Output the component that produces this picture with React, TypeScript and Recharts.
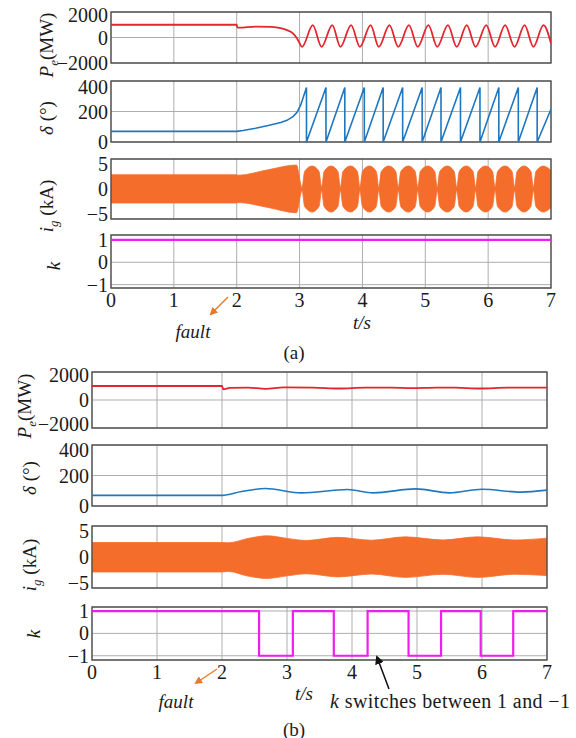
import React from 'react';
import {
  ComposedChart,
  Line,
  Area,
  XAxis,
  YAxis,
  CartesianGrid,
  ReferenceLine,
  ReferenceArea,
} from 'recharts';

const FONT = 'Liberation Serif, DejaVu Serif, Times New Roman, serif';

// ---------- shared ----------
const X_TICKS = [0, 1, 2, 3, 4, 5, 6, 7];
const FAULT_T = 2;
const PE_TICKS = [-2000, 0, 2000];
const DELTA_TICKS = [0, 200, 400];
const IG_TICKS = [-5, 0, 5];
const K_TICKS = [-1, 0, 1];

// ---------- (a) ----------
const peA_t = [0, 2.0, 2.01, 2.04, 2.3, 2.55, 2.7, 2.8, 2.9, 2.97,
  3.04, 3.21, 3.35, 3.52, 3.65, 3.82, 3.96, 4.13, 4.26, 4.43, 4.57, 4.74, 4.88,
  5.05, 5.19, 5.36, 5.50, 5.66, 5.80, 5.97, 6.11, 6.27, 6.42, 6.58, 6.72, 6.88, 7.0];
const peA_v = [1000, 1000, 800, 770, 860, 840, 740, 580, 300, -150,
  -730, 970, -730, 970, -730, 970, -730, 970, -730, 970, -730, 970, -730,
  970, -730, 970, -730, 970, -730, 970, -730, 970, -730, 970, -730, 970, -480];

const deltaA_t = [0, 2.0, 2.1, 2.3, 2.5, 2.7, 2.8, 2.9, 2.96, 3.02, 3.11,
  3.11, 3.42, 3.42, 3.72, 3.72, 4.03, 4.03, 4.33, 4.33, 4.64, 4.64, 4.95, 4.95,
  5.25, 5.25, 5.56, 5.56, 5.87, 5.87, 6.17, 6.17, 6.48, 6.48, 6.78, 6.78, 7.0];
const deltaA_v = [70, 70, 75, 90, 108, 128, 142, 168, 195, 245, 358,
  0, 358, 0, 358, 0, 358, 0, 358, 0, 358, 0, 358, 0,
  358, 0, 358, 0, 358, 0, 358, 0, 358, 0, 358, 0, 215];

const igA_t = [0, 2.0, 2.02, 2.5, 2.95,
  3.04, 3.08, 3.20, 3.31,
  3.35, 3.39, 3.50, 3.61,
  3.65, 3.69, 3.81, 3.92,
  3.96, 4.00, 4.11, 4.22,
  4.26, 4.30, 4.42, 4.53,
  4.57, 4.61, 4.73, 4.84,
  4.88, 4.92, 5.04, 5.15,
  5.19, 5.23, 5.35, 5.46,
  5.50, 5.54, 5.65, 5.76,
  5.80, 5.84, 5.96, 6.07,
  6.11, 6.15, 6.27, 6.38,
  6.42, 6.46, 6.57, 6.68,
  6.72, 6.76, 6.88, 7.0];
const igA_hi = [2.85, 2.85, 2.75, 3.85, 4.8,
  0.3, 3.5, 4.6, 3.5,
  0.3, 3.5, 4.6, 3.5,
  0.3, 3.5, 4.6, 3.5,
  0.3, 3.5, 4.6, 3.5,
  0.3, 3.5, 4.6, 3.5,
  0.3, 3.5, 4.6, 3.5,
  0.3, 3.5, 4.6, 3.5,
  0.3, 3.5, 4.6, 3.5,
  0.3, 3.5, 4.6, 3.5,
  0.3, 3.5, 4.6, 3.5,
  0.3, 3.5, 4.6, 3.5,
  0.3, 3.5, 4.6, 3.5,
  0.3, 3.5, 4.6, 3.7];
const igA_lo = [-2.8, -2.8, -2.7, -3.7, -4.75,
  -0.3, -3.5, -4.6, -3.5,
  -0.3, -3.5, -4.6, -3.5,
  -0.3, -3.5, -4.6, -3.5,
  -0.3, -3.5, -4.6, -3.5,
  -0.3, -3.5, -4.6, -3.5,
  -0.3, -3.5, -4.6, -3.5,
  -0.3, -3.5, -4.6, -3.5,
  -0.3, -3.5, -4.6, -3.5,
  -0.3, -3.5, -4.6, -3.5,
  -0.3, -3.5, -4.6, -3.5,
  -0.3, -3.5, -4.6, -3.5,
  -0.3, -3.5, -4.6, -3.5,
  -0.3, -3.5, -4.6, -3.7];

const kA_t = [0, 7];
const kA_v = [1, 1];

// ---------- (b) ----------
const peB_t = [0, 2.0, 2.02, 2.12, 2.4, 2.67, 2.95, 3.4, 3.8, 4.2, 4.6, 4.92, 5.3, 5.6, 5.97, 6.4, 6.75, 7.0];
const peB_v = [1000, 1000, 760, 860, 890, 800, 900, 890, 820, 890, 890, 850, 890, 880, 820, 890, 880, 880];

const deltaB_t = [0, 2.0, 2.3, 2.67, 3.22, 3.93, 4.33, 4.98, 5.5, 6.0, 6.6, 7.0];
const deltaB_v = [70, 70, 95, 115, 86, 108, 86, 112, 86, 110, 91, 104];

const igB_t = [0, 2.0, 2.1, 2.4, 2.7, 3.0, 3.3, 3.78, 4.3, 4.82, 5.4, 5.93, 6.5, 7.0];
const igB_hi = [2.8, 2.8, 2.75, 3.6, 4.1, 3.6, 3.2, 3.8, 3.25, 3.9, 3.3, 3.9, 3.3, 3.65];
const igB_lo = [-2.9, -2.9, -2.8, -3.7, -4.15, -3.65, -3.25, -3.85, -3.3, -3.95, -3.35, -3.95, -3.35, -3.6];

const kB_t = [0, 2.57, 2.57, 3.09, 3.09, 3.72, 3.72, 4.24, 4.24, 4.87, 4.87, 5.37, 5.37, 5.98, 5.98, 6.48, 6.48, 7.0];
const kB_v = [1, 1, -1, -1, 1, 1, -1, -1, 1, 1, -1, -1, 1, 1, -1, -1, 1, 1];

// ---------- helpers ----------
const series = (t: number[], v: number[]) => t.map((x, i) => ({ t: x, v: v[i] }));
const band = (t: number[], lo: number[], hi: number[]) => t.map((x, i) => ({ t: x, r: [lo[i], hi[i]] }));

const fmt = (v: number) => (v < 0 ? `\u2212${Math.abs(v)}` : `${v}`);

const C_RED = '#e3262d';
const C_BLUE = '#1f77c0';
const C_ORANGE = '#f56d2b';
const C_MAG = '#ef1eef';
const C_FAULT = '#e8792c';
const C_GRID = '#adadad';
const C_TEXT = '#1a1a1a';

const YW = 90;
const MT = 14;
const MR = 6;
const MB = 14;
const XH = 30;

type PanelProps = {
  data: any[];
  left: number;
  right: number;
  top: number;
  bottom: number;
  domain: [number, number];
  ticks: number[];
  gridValues: number[];
  labelShift?: Record<number, number>;
  showX?: boolean;
  children: React.ReactNode;
};

function Panel({ data, left, right, top, bottom, domain, ticks, gridValues, labelShift, showX, children }: PanelProps) {
  const xh = showX ? XH : 0;
  const w = right - left + YW + MR;
  const h = bottom - top + MT + MB + xh;
  const tickStyle = { fontSize: 20, fontFamily: FONT, fill: C_TEXT };
  const yTick = (props: any) => {
    const { x, y, payload } = props;
    const shift = (labelShift && labelShift[payload.value]) || 0;
    return (
      <text x={x} y={y + shift} dy="0.355em" textAnchor="end" fontSize={20} fill={C_TEXT} style={{ fontFamily: FONT }}>
        {fmt(payload.value)}
      </text>
    );
  };
  return (
    <div style={{ position: 'absolute', left: left - YW, top: top - MT, width: w, height: h, fontFamily: FONT }}>
      <ComposedChart width={w} height={h} data={data} margin={{ top: MT, right: MR, bottom: MB, left: 0 }}>
        <CartesianGrid stroke={C_GRID} strokeWidth={1} horizontalValues={gridValues} verticalValues={X_TICKS} />
        <XAxis
          dataKey="t"
          type="number"
          domain={[0, 7]}
          ticks={X_TICKS}
          interval={0}
          allowDataOverflow
          hide={!showX}
          height={xh}
          tickLine={false}
          axisLine={false}
          tickSize={0}
          tickMargin={5}
          tick={tickStyle}
        />
        <YAxis
          type="number"
          domain={domain}
          ticks={ticks}
          interval={0}
          allowDataOverflow
          width={YW}
          tickLine={false}
          axisLine={false}
          tickSize={0}
          tickMargin={3}
          tick={yTick}
        />
        {children}
        <ReferenceArea
          x1={0}
          x2={7}
          y1={domain[0]}
          y2={domain[1]}
          fill="none"
          fillOpacity={0}
          stroke="#4a4a4a"
          strokeWidth={1.3}
          ifOverflow="visible"
        />
      </ComposedChart>
    </div>
  );
}

const faultData = [{ t: 0 }, { t: 7 }];

function FaultLine({ left, right, top, bottom }: { left: number; right: number; top: number; bottom: number }) {
  const w = right - left + YW + MR;
  const h = bottom - top + MT + MB;
  return (
    <div style={{ position: 'absolute', left: left - YW, top: top - MT, width: w, height: h, pointerEvents: 'none' }}>
      <ComposedChart width={w} height={h} data={faultData} margin={{ top: MT, right: MR, bottom: MB, left: YW }}>
        <XAxis dataKey="t" type="number" domain={[0, 7]} hide allowDataOverflow />
        <YAxis type="number" domain={[0, 1]} hide />
        <ReferenceLine x={FAULT_T} stroke={C_FAULT} strokeWidth={1} strokeDasharray="3 2" />
      </ComposedChart>
    </div>
  );
}

function YLabel({ x, y, children }: { x: number; y: number; children: React.ReactNode }) {
  return (
    <text
      transform={`translate(${x},${y}) rotate(-90)`}
      textAnchor="middle"
      fontSize={19}
      style={{ fontFamily: FONT }}
      fill={C_TEXT}
    >
      {children}
    </text>
  );
}

function PeLabel({ x, y }: { x: number; y: number }) {
  return (
    <YLabel x={x} y={y}>
      <tspan fontStyle="italic">P</tspan>
      <tspan fontStyle="italic" fontSize={13} dy={5}>e</tspan>
      <tspan dy={-5}>(MW)</tspan>
    </YLabel>
  );
}
function DeltaLabel({ x, y }: { x: number; y: number }) {
  return (
    <YLabel x={x} y={y}>
      <tspan fontStyle="italic">δ</tspan>
      <tspan> (°)</tspan>
    </YLabel>
  );
}
function IgLabel({ x, y }: { x: number; y: number }) {
  return (
    <YLabel x={x} y={y}>
      <tspan fontStyle="italic">i</tspan>
      <tspan fontStyle="italic" fontSize={13} dy={5}>g</tspan>
      <tspan dy={-5}> (kA)</tspan>
    </YLabel>
  );
}
function KLabel({ x, y }: { x: number; y: number }) {
  return (
    <YLabel x={x} y={y}>
      <tspan fontStyle="italic">k</tspan>
    </YLabel>
  );
}

// layout (page pixels)
const A_L = 111;
const A_R = 551;
const B_L = 92;
const B_R = 547;

export default function App() {
  const peA = series(peA_t, peA_v);
  const deltaA = series(deltaA_t, deltaA_v);
  const igA = band(igA_t, igA_lo, igA_hi);
  const kA = series(kA_t, kA_v);
  const peB = series(peB_t, peB_v);
  const deltaB = series(deltaB_t, deltaB_v);
  const igB = band(igB_t, igB_lo, igB_hi);
  const kB = series(kB_t, kB_v);

  const ts = { fontFamily: FONT };

  return (
    <div style={{ position: 'absolute', left: 0, top: 0, width: 576, height: 738, background: '#fff', overflow: 'hidden', fontFamily: FONT }}>
      {/* (a) */}
      <Panel data={peA} left={A_L} right={A_R} top={12} bottom={63} domain={[-2000, 2000]} ticks={PE_TICKS} gridValues={[0]} labelShift={{ 2000: 3 }}>
        <Line dataKey="v" type="monotone" stroke={C_RED} strokeWidth={1.8} dot={false} isAnimationActive={false} />
      </Panel>
      <Panel data={deltaA} left={A_L} right={A_R} top={81} bottom={142} domain={[0, 400]} ticks={DELTA_TICKS} gridValues={[200]} labelShift={{ 400: 6 }}>
        <Line dataKey="v" type="linear" stroke={C_BLUE} strokeWidth={1.6} dot={false} isAnimationActive={false} />
      </Panel>
      <Panel data={igA} left={A_L} right={A_R} top={159} bottom={219} domain={[-6, 6]} ticks={IG_TICKS} gridValues={[0]}>
        <Area dataKey="r" type="monotone" stroke={C_ORANGE} strokeWidth={0.8} fill={C_ORANGE} fillOpacity={1} dot={false} isAnimationActive={false} />
      </Panel>
      <Panel data={kA} left={A_L} right={A_R} top={235} bottom={288} domain={[-1.15, 1.22]} ticks={K_TICKS} gridValues={[-1, 0, 1]} showX>
        <Line dataKey="v" type="linear" stroke={C_MAG} strokeWidth={2.2} dot={false} isAnimationActive={false} />
      </Panel>
      <FaultLine left={A_L} right={A_R} top={12} bottom={288} />

      {/* (b) */}
      <Panel data={peB} left={B_L} right={B_R} top={372} bottom={428} domain={[-2000, 2000]} ticks={PE_TICKS} gridValues={[0]} labelShift={{ 2000: 3, [-2000]: -4 }}>
        <Line dataKey="v" type="monotone" stroke={C_RED} strokeWidth={1.8} dot={false} isAnimationActive={false} />
      </Panel>
      <Panel data={deltaB} left={B_L} right={B_R} top={445} bottom={506} domain={[0, 400]} ticks={DELTA_TICKS} gridValues={[200]} labelShift={{ 400: 5 }}>
        <Line dataKey="v" type="monotone" stroke={C_BLUE} strokeWidth={1.6} dot={false} isAnimationActive={false} />
      </Panel>
      <Panel data={igB} left={B_L} right={B_R} top={526} bottom={588} domain={[-6, 6]} ticks={IG_TICKS} gridValues={[0]}>
        <Area dataKey="r" type="monotone" stroke={C_ORANGE} strokeWidth={0.8} fill={C_ORANGE} fillOpacity={1} dot={false} isAnimationActive={false} />
      </Panel>
      <Panel data={kB} left={B_L} right={B_R} top={607} bottom={660} domain={[-1.19, 1.18]} ticks={K_TICKS} gridValues={[-1, 0, 1]} showX>
        <Line dataKey="v" type="linear" stroke={C_MAG} strokeWidth={2.2} dot={false} isAnimationActive={false} />
      </Panel>
      <FaultLine left={B_L} right={B_R} top={372} bottom={660} />

      {/* annotations */}
      <svg width={576} height={738} style={{ position: 'absolute', left: 0, top: 0, pointerEvents: 'none', fontFamily: FONT }}>
        <defs>
          <marker id="arrO" markerWidth="8" markerHeight="8" refX="6" refY="4" orient="auto" markerUnits="userSpaceOnUse">
            <path d="M0,0 L8,4 L0,8 Z" fill={C_FAULT} />
          </marker>
          <marker id="arrK" markerWidth="9" markerHeight="9" refX="7" refY="4.5" orient="auto" markerUnits="userSpaceOnUse">
            <path d="M0,0 L9,4.5 L0,9 Z" fill="#111" />
          </marker>
        </defs>

        <PeLabel x={53} y={45} />
        <DeltaLabel x={53} y={118} />
        <IgLabel x={53} y={206} />
        <KLabel x={60} y={266} />

        <text x={362} y={322} textAnchor="middle" dominantBaseline="central" fontSize={19} fontStyle="italic" fill={C_TEXT} style={ts}>t/s</text>
        <line x1={228} y1={297} x2={211} y2={314} stroke={C_FAULT} strokeWidth={1.4} markerEnd="url(#arrO)" />
        <text x={193} y={331} textAnchor="middle" dominantBaseline="central" fontSize={19} fontStyle="italic" fill={C_TEXT} style={ts}>fault</text>
        <text x={294} y={352} textAnchor="middle" dominantBaseline="central" fontSize={19} fill={C_TEXT} style={ts}>(a)</text>

        <PeLabel x={31} y={406} />
        <DeltaLabel x={36} y={478} />
        <IgLabel x={36} y={565} />
        <KLabel x={40} y={634} />

        <text x={304} y={693} textAnchor="middle" dominantBaseline="central" fontSize={19} fontStyle="italic" fill={C_TEXT} style={ts}>t/s</text>
        <line x1={217} y1={669} x2={196} y2={683} stroke={C_FAULT} strokeWidth={1.4} markerEnd="url(#arrO)" />
        <text x={176} y={701} textAnchor="middle" dominantBaseline="central" fontSize={19} fontStyle="italic" fill={C_TEXT} style={ts}>fault</text>
        <line x1={389} y1={689} x2={377} y2={657} stroke="#111" strokeWidth={1.6} markerEnd="url(#arrK)" />
        <text x={330} y={701} dominantBaseline="central" fontSize={20} fill={C_TEXT} style={ts} textLength={240} lengthAdjust="spacing">
          <tspan fontStyle="italic">k</tspan> switches between 1 and −1
        </text>
        <text x={294} y={729} textAnchor="middle" dominantBaseline="central" fontSize={19} fill={C_TEXT} style={ts}>(b)</text>
      </svg>
    </div>
  );
}
